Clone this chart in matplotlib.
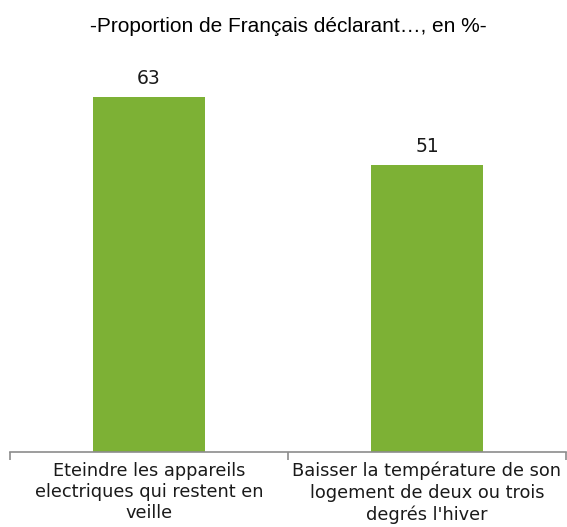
import matplotlib
matplotlib.use('Agg')
import matplotlib.pyplot as plt

categories = ["Eteindre les appareils\nelectriques qui restent en\nveille",
              "Baisser la température de son\nlogement de deux ou trois\ndegrés l'hiver"]
values = [63, 51]

fig = plt.figure(figsize=(5.67, 5.27), dpi=100)
ax = fig.add_axes([10/567, 75/527, 556/567, 394/527])

x = range(len(values))
ax.bar(x, values, width=0.4, color='#7DB135')
for i, v in zip(x, values):
    ax.annotate(str(v), (i, v), xytext=(0, 9.5), textcoords='offset points',
                ha='center', va='baseline', fontsize=13.5,
                family='DejaVu Sans', color='#1a1a1a')

ax.set_xlim(-0.5, 1.5)
ax.set_ylim(0, 70)
ax.set_yticks([])
for s in ['top', 'left', 'right']:
    ax.spines[s].set_visible(False)
ax.spines['bottom'].set_color('#8c8c8c')
ax.spines['bottom'].set_linewidth(1.2)

ax.set_xticks(list(x))
ax.set_xticklabels(categories, fontsize=12.8, family='DejaVu Sans',
                   linespacing=1.24, color='#1a1a1a')
ax.tick_params(axis='x', which='major', length=0, pad=7)
ax.set_xticks([-0.5, 0.5, 1.5], minor=True)
ax.tick_params(axis='x', which='minor', length=6, color='#8c8c8c', width=1.2)

fig.text(288/567, 1 - 32/527, "-Proportion de Français déclarant…, en %-",
         ha='center', va='baseline', fontsize=15, family='Liberation Sans')

fig.savefig('out.png', dpi=100)
